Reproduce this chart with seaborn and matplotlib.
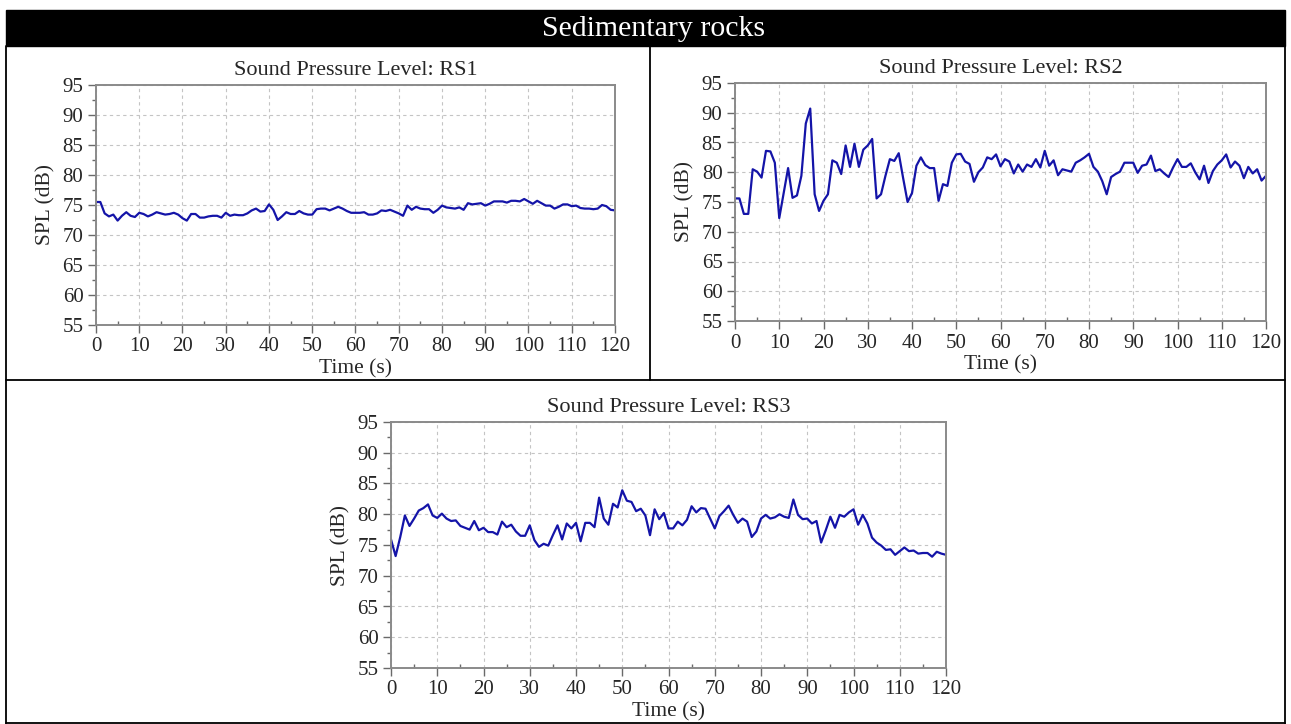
#!/usr/bin/env python3
"""
Sound pressure level traces for the sedimentary rock samples (RS1-RS3)
"""

import numpy as np
import pandas as pd
import matplotlib
matplotlib.use('Agg')
import matplotlib.pyplot as plt
from matplotlib.patches import Rectangle
from matplotlib.lines import Line2D
from matplotlib.ticker import MultipleLocator
import seaborn as sns

# time axis, one reading per second
TIME_S = np.arange(0, 121, 1)

SPL_RS1 = [75.5, 75.5, 73.6, 73.1, 73.4, 72.4, 73.2, 73.8, 73.2, 73.0,
           73.7, 73.5, 73.1, 73.4, 73.8, 73.6, 73.4, 73.5, 73.7, 73.4,
           72.8, 72.4, 73.5, 73.5, 72.9, 72.9, 73.1, 73.2, 73.2, 72.9,
           73.7, 73.2, 73.4, 73.3, 73.3, 73.6, 74.1, 74.4, 73.9, 74.0,
           75.1, 74.2, 72.5, 73.1, 73.8, 73.5, 73.5, 74.0, 73.6, 73.4,
           73.4, 74.3, 74.4, 74.4, 74.1, 74.4, 74.7, 74.4, 74.0, 73.7,
           73.7, 73.7, 73.8, 73.4, 73.4, 73.6, 74.1, 74.0, 74.2, 73.9,
           73.6, 73.2, 74.9, 74.2, 74.7, 74.4, 74.3, 74.3, 73.7, 74.2,
           74.9, 74.6, 74.5, 74.4, 74.6, 74.2, 75.3, 75.1, 75.2, 75.3,
           74.9, 75.2, 75.6, 75.6, 75.6, 75.4, 75.7, 75.7, 75.6, 76.0,
           75.6, 75.2, 75.7, 75.3, 74.9, 74.9, 74.4, 74.7, 75.1, 75.1,
           74.8, 74.9, 74.5, 74.4, 74.4, 74.3, 74.4, 75.0, 74.8, 74.2,
           74.1]

SPL_RS2 = [75.6, 75.6, 73.0, 73.0, 80.5, 80.1, 79.1, 83.6, 83.5, 81.6,
           72.3, 76.5, 80.7, 75.7, 76.1, 79.4, 88.2, 90.7, 76.3, 73.5,
           75.2, 76.3, 82.0, 81.6, 79.7, 84.5, 80.9, 84.8, 80.9, 83.8,
           84.5, 85.6, 75.6, 76.3, 79.4, 82.2, 81.9, 83.2, 79.0, 75.0,
           76.5, 81.1, 82.5, 81.2, 80.7, 80.7, 75.2, 78.0, 77.7, 81.6,
           83.0, 83.1, 81.8, 81.4, 78.4, 80.0, 80.8, 82.5, 82.2, 83.0,
           81.0, 82.2, 81.8, 79.8, 81.3, 80.1, 81.3, 80.9, 82.2, 80.8,
           83.6, 81.1, 82.0, 79.5, 80.5, 80.3, 80.1, 81.6, 82.0, 82.5,
           83.1, 80.9, 80.1, 78.5, 76.3, 79.2, 79.7, 80.1, 81.6, 81.6,
           81.6, 79.9, 81.1, 81.3, 82.8, 80.2, 80.5, 79.8, 79.2, 80.8,
           82.2, 80.9, 80.9, 81.5, 80.0, 78.8, 81.1, 78.2, 80.2, 81.3,
           82.0, 83.0, 80.8, 81.8, 81.1, 79.0, 80.9, 79.8, 80.5, 78.6,
           79.4]

SPL_RS3 = [75.9, 73.2, 76.3, 79.8, 78.1, 79.3, 80.6, 81.0, 81.6, 79.8,
           79.4, 80.1, 79.3, 78.9, 79.0, 78.1, 77.8, 77.5, 78.9, 77.4,
           77.8, 77.1, 77.1, 76.7, 78.8, 77.9, 78.3, 77.2, 76.5, 76.5,
           78.2, 75.8, 74.7, 75.2, 74.9, 76.6, 78.2, 75.9, 78.5, 77.7,
           78.6, 75.6, 78.6, 78.6, 77.9, 82.7, 79.3, 78.3, 81.7, 81.1,
           83.9, 82.2, 82.0, 80.5, 80.9, 79.8, 76.6, 80.8, 79.2, 80.2,
           77.7, 77.7, 78.8, 78.2, 79.1, 81.3, 80.3, 81.0, 80.9, 79.3,
           77.7, 79.7, 80.5, 81.4, 79.9, 78.6, 79.3, 78.8, 76.3, 77.2,
           79.3, 79.9, 79.3, 79.5, 80.0, 79.6, 79.4, 82.4, 79.9, 79.2,
           79.3, 78.5, 78.9, 75.4, 77.4, 79.6, 77.8, 79.9, 79.6, 80.3,
           80.8, 78.3, 79.9, 78.5, 76.2, 75.4, 74.9, 74.2, 74.3, 73.4,
           74.0, 74.6, 74.0, 74.1, 73.6, 73.7, 73.7, 73.1, 73.9, 73.6,
           73.4]

SAMPLES = ['RS1', 'RS2', 'RS3']
SERIES = [SPL_RS1, SPL_RS2, SPL_RS3]
X_TICKS = list(range(0, 121, 10))
Y_TICKS = list(range(55, 96, 5))

W, H = 1291, 724
LINE_COLOR = '#1414a8'
SERIF = ['Liberation Serif', 'DejaVu Serif']


def fx(px):
    return px / W


def fy(py):
    return 1 - py / H


def style_axes(ax, sample):
    ax.set_xlim(0, 120)
    ax.set_ylim(55, 95)
    ax.set_xticks(X_TICKS)
    ax.set_yticks(Y_TICKS)
    ax.xaxis.set_minor_locator(MultipleLocator(5))
    ax.yaxis.set_minor_locator(MultipleLocator(2.5))
    ax.grid(True, which='major', color='#c4c4c4', linestyle=(0, (3, 3)), linewidth=0.8)
    ax.grid(False, which='minor')
    ax.tick_params(which='both', bottom=True, left=True, top=False, right=False)
    ax.tick_params(which='major', direction='out', length=6, width=1.0, color='#6a6a6a',
                   labelsize=15, pad=3)
    ax.tick_params(axis='x', which='minor', direction='in', length=3, width=1.0, color='#6a6a6a')
    ax.tick_params(axis='y', which='minor', direction='out', length=3, width=1.0, color='#6a6a6a')
    for sp in ax.spines.values():
        sp.set_visible(True)
        sp.set_color('#8a8a8a')
        sp.set_linewidth(1.4)
    ax.set_title(f'Sound Pressure Level: {sample}', fontsize=16, pad=7, family=SERIF)
    ax.set_xlabel('Time (s)', fontsize=15.5, labelpad=2, family=SERIF)
    ax.set_ylabel('SPL (dB)', fontsize=15.5, labelpad=5, family=SERIF)
    for lab in ax.get_xticklabels() + ax.get_yticklabels():
        lab.set_family(SERIF)


def main():
    sns.set_style('white')
    plt.rcParams['font.family'] = SERIF

    fig = plt.figure(figsize=(W / 100, H / 100), dpi=100)

    # axes boxes in pixels: left, top, right, bottom
    boxes = [(96, 85, 615, 325), (735, 83, 1266, 321), (391, 422, 946, 668)]

    for sample, values, (l, t, r, b) in zip(SAMPLES, SERIES, boxes):
        ax = fig.add_axes([fx(l), fy(b), fx(r - l), (b - t) / H])
        df = pd.DataFrame({'Time (s)': TIME_S, 'SPL (dB)': values})
        sns.lineplot(data=df, x='Time (s)', y='SPL (dB)', ax=ax,
                     color=LINE_COLOR, linewidth=1.6)
        style_axes(ax, sample)

    # black header band
    fig.patches.append(Rectangle((fx(6), fy(46)), fx(1279), 36 / H,
                                 transform=fig.transFigure, facecolor='black',
                                 edgecolor='black', zorder=0))
    fig.text(fx(654), fy(29), 'Sedimentary rocks', color='white', fontsize=21.5,
             ha='center', va='center', family=SERIF)

    # panel frame lines
    frame = [((6, 6), (46, 724)), ((1285, 1285), (46, 724)),
             ((6, 1285), (380, 380)), ((650, 650), (46, 380)),
             ((6, 1285), (723, 723))]
    for xs, ys in frame:
        fig.add_artist(Line2D([fx(x) for x in xs], [fy(y) for y in ys],
                              transform=fig.transFigure, color='black', linewidth=1.3))

    fig.savefig('out.png', dpi=100)
    plt.close(fig)


if __name__ == '__main__':
    main()
